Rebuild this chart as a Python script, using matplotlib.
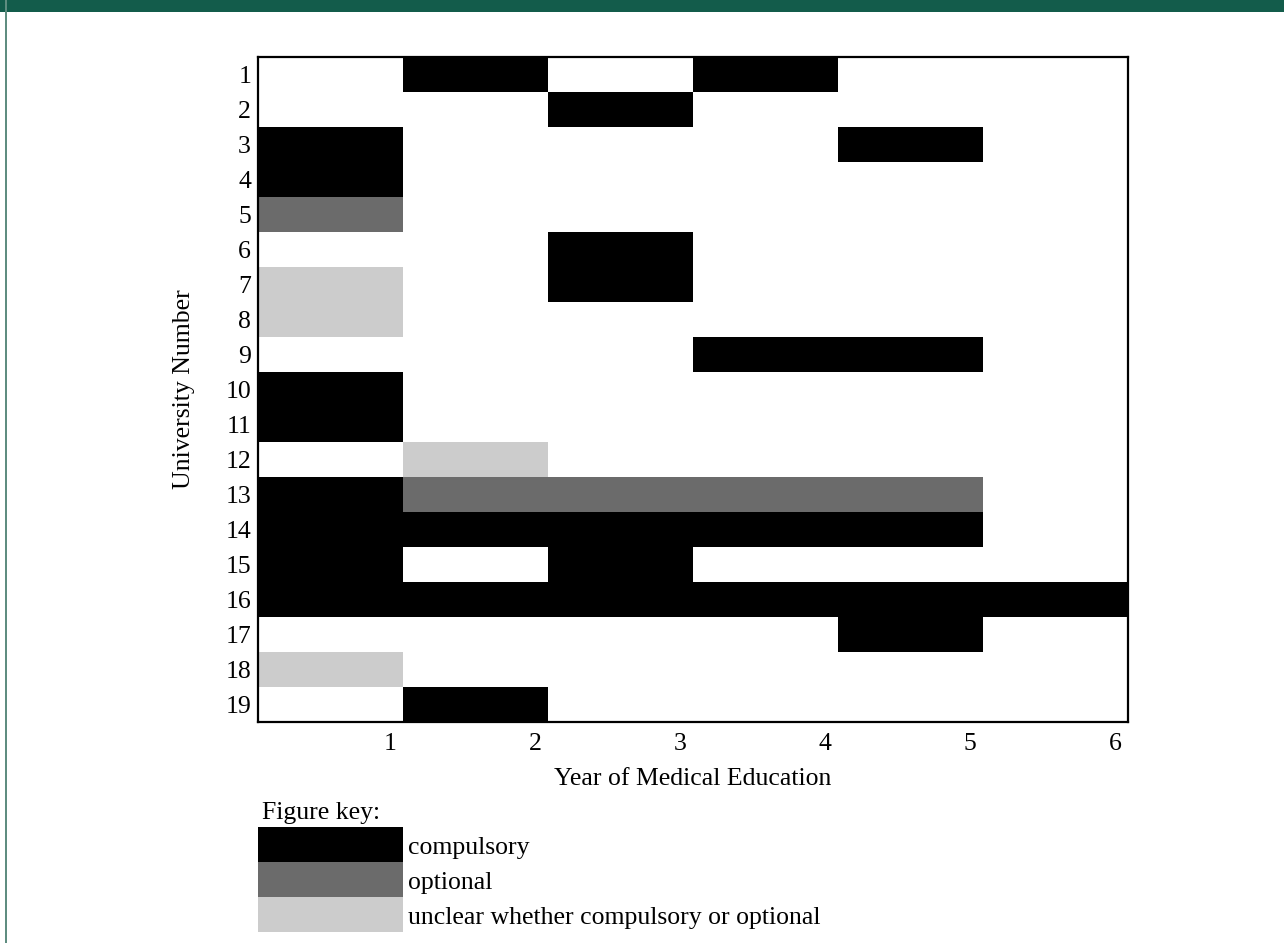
import numpy as np
import matplotlib.pyplot as plt
from matplotlib.colors import ListedColormap, BoundaryNorm
from matplotlib.patches import Rectangle

plt.rcParams['font.family'] = ['Liberation Serif', 'DejaVu Serif']

years = [1, 2, 3, 4, 5, 6]
universities = list(range(1, 20))
# 0 = none, 1 = compulsory, 2 = optional, 3 = unclear
status = [
    [0, 1, 0, 1, 0, 0],
    [0, 0, 1, 0, 0, 0],
    [1, 0, 0, 0, 1, 0],
    [1, 0, 0, 0, 0, 0],
    [2, 0, 0, 0, 0, 0],
    [0, 0, 1, 0, 0, 0],
    [3, 0, 1, 0, 0, 0],
    [3, 0, 0, 0, 0, 0],
    [0, 0, 0, 1, 1, 0],
    [1, 0, 0, 0, 0, 0],
    [1, 0, 0, 0, 0, 0],
    [0, 3, 0, 0, 0, 0],
    [1, 2, 2, 2, 2, 0],
    [1, 1, 1, 1, 1, 0],
    [1, 0, 1, 0, 0, 0],
    [1, 1, 1, 1, 1, 1],
    [0, 0, 0, 0, 1, 0],
    [3, 0, 0, 0, 0, 0],
    [0, 1, 0, 0, 0, 0],
]
key_labels = ['compulsory', 'optional', 'unclear whether compulsory or optional']
colors = ['#ffffff', '#000000', '#6b6b6b', '#cccccc']
FS = 18.5

fig = plt.figure(figsize=(12.84, 9.43), dpi=100)
ax = fig.add_axes([258 / 1284, 1 - 722 / 943, 870 / 1284, 665 / 943])

cmap = ListedColormap(colors)
norm = BoundaryNorm([-0.5, 0.5, 1.5, 2.5, 3.5], cmap.N)
xe = np.arange(len(years) + 1)
ye = np.arange(len(universities) + 1)
ax.pcolormesh(xe, ye, np.array(status), cmap=cmap, norm=norm)
ax.set_xlim(0, len(years))
ax.set_ylim(len(universities), 0)

# year labels sit just left of the column's right edge
ax.set_xticks(np.array(years) - 0.09)
ax.set_xticklabels([str(y) for y in years], fontsize=FS)
ax.set_yticks(np.array(universities) - 0.5)
ax.set_yticklabels([str(u) for u in universities], fontsize=FS)
ax.tick_params(axis='x', length=0, pad=8)
ax.tick_params(axis='y', length=0, pad=5)
for sp in ax.spines.values():
    sp.set_linewidth(1.6)
ax.set_xlabel('Year of Medical Education', fontsize=FS, labelpad=9)
ax.set_ylabel('University Number', fontsize=FS, labelpad=22)

# figure key below the chart
ax.text(0.03, 21.6, 'Figure key:', fontsize=FS, va='center', ha='left')
for i, lab in enumerate(key_labels):
    ax.add_patch(Rectangle((0, 22 + i), 1, 1, facecolor=colors[i + 1],
                           edgecolor='none', clip_on=False))
    ax.text(1.035, 22.6 + i, lab, fontsize=FS, va='center', ha='left')

# green frame of the page
fig.patches.append(Rectangle((0, 1 - 12 / 943), 1, 12 / 943, transform=fig.transFigure,
                             facecolor='#135c4b', edgecolor='none'))
fig.patches.append(Rectangle((5 / 1284, 0), 2 / 1284, 1, transform=fig.transFigure,
                             facecolor='#5f8d80', edgecolor='none'))

fig.savefig('out.png', dpi=100)
